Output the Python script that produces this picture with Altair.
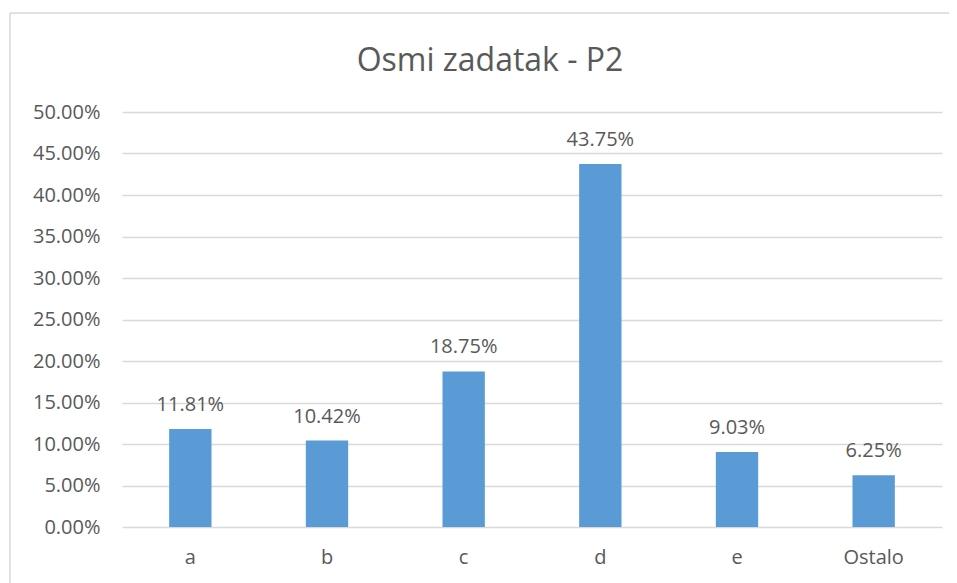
import altair as alt
import pandas as pd

categories = ["a", "b", "c", "d", "e", "Ostalo"]
values = [0.1181, 0.1042, 0.1875, 0.4375, 0.0903, 0.0625]
y_ticks = [0.0, 0.05, 0.10, 0.15, 0.20, 0.25, 0.30, 0.35, 0.40, 0.45, 0.50]
title_text = "Osmi zadatak - P2"

df = pd.DataFrame({"kategorija": categories, "udio": values})

FONT = "Open Sans"
GREY = "#595959"

x_enc = alt.X("kategorija:N", sort=categories, title=None,
              scale=alt.Scale(paddingInner=0.69, paddingOuter=0.345),
              axis=alt.Axis(labelAngle=0, ticks=False, domain=False,
                            labelPadding=20, labelFontSize=20, labelFont=FONT,
                            labelColor=GREY, grid=False))
y_enc = alt.Y("udio:Q", title=None,
              scale=alt.Scale(domain=[0, 0.5], nice=False),
              axis=alt.Axis(values=y_ticks, format=".2%", ticks=False, domain=False,
                            labelPadding=22, labelFontSize=20, labelFont=FONT,
                            labelColor=GREY, gridColor="#d9d9d9", gridWidth=1.5))

base = alt.Chart(df)

bars = base.mark_bar(color="#5b9bd5").encode(x=x_enc, y=y_enc)

labels = base.mark_text(baseline="bottom", dy=-14, fontSize=20, font=FONT, color=GREY).encode(
    x=alt.X("kategorija:N", sort=categories),
    y=alt.Y("udio:Q"),
    text=alt.Text("udio:Q", format=".2%"),
)

one = pd.DataFrame({"t": [title_text]})

frame_top = alt.Chart(one).mark_rule(color="#d9d9d9", strokeWidth=1.5).encode(
    x=alt.value(-112), x2=alt.value(827), y=alt.value(-99)
)
frame_left = alt.Chart(one).mark_rule(color="#d9d9d9", strokeWidth=1.5).encode(
    x=alt.value(-112), y=alt.value(-99), y2=alt.value(480)
)

title = alt.Chart(one).mark_text(
    fontSize=32, font=FONT, color=GREY, align="center", baseline="alphabetic"
).encode(
    x=alt.value(368), y=alt.value(-41), text="t:N"
)

chart = alt.layer(frame_top, frame_left, bars, labels, title).properties(
    width=820,
    height=415,
    padding={"left": 114, "top": 104, "right": 7, "bottom": 56},
    autosize=alt.AutoSizeParams(type="none"),
).configure_view(stroke=None)

chart.save("out.html", embed_options={"renderer": "svg", "actions": False})
